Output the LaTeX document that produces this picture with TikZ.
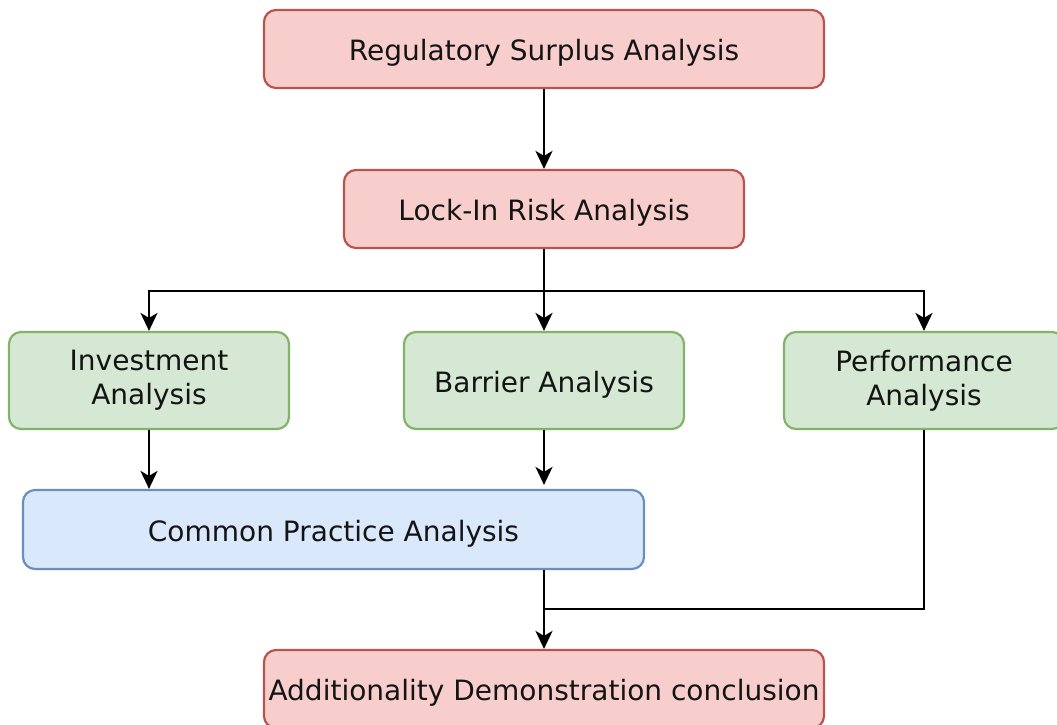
\documentclass[tikz,border=0pt]{standalone}
\usepackage{fontspec}
\setmainfont{DejaVu Sans}
\usetikzlibrary{arrows.meta}
\definecolor{redfill}{HTML}{F8CECC}
\definecolor{redline}{HTML}{B85450}
\definecolor{greenfill}{HTML}{D5E8D4}
\definecolor{greenline}{HTML}{82B366}
\definecolor{bluefill}{HTML}{DAE8FC}
\definecolor{blueline}{HTML}{6C8EBF}
\begin{document}
\begin{tikzpicture}[x=1pt,y=-1pt,
  box/.style={rounded corners=12pt, line width=2.2pt, inner sep=0pt, align=center,
    font=\fontsize{28}{34}\selectfont, text=black!92,
    execute at begin node={\rule{0pt}{29pt}}},
  redbox/.style={box, fill=redfill, draw=redline},
  greenbox/.style={box, fill=greenfill, draw=greenline},
  bluebox/.style={box, fill=bluefill, draw=blueline},
  conn/.style={line width=2.4pt, draw=black},
  arr/.style={conn, -{Stealth[length=18pt,width=17pt,inset=5pt]}}
]
\useasboundingbox (0,0) rectangle (1057,724);
\clip (0,0) rectangle (1057,724);
\node[redbox, minimum width=560pt, minimum height=78pt] (reg) at (544,49) {Regulatory Surplus Analysis};
\node[redbox, minimum width=400pt, minimum height=78pt] (lock) at (544,209) {Lock-In Risk Analysis};
\node[greenbox, minimum width=280pt, minimum height=97pt] (inv) at (149,380.5) {Investment\\Analysis};
\node[greenbox, minimum width=280pt, minimum height=97pt] (bar) at (544,380.5) {Barrier Analysis};
\node[greenbox, minimum width=280pt, minimum height=97pt] (perf) at (924,380.5) {Performance\\Analysis};
\node[bluebox, minimum width=621pt, minimum height=79pt] (cpa) at (333.5,529.5) {Common Practice Analysis};
\node[redbox, minimum width=560pt, minimum height=78pt] (add) at (544,689) {Additionality Demonstration conclusion};

\coordinate (split) at (544,291);
\coordinate (join) at (544,609);

\draw[arr] (reg.south) -- (lock.north);
\draw[conn] (lock.south) -- (split);
\draw[arr] (split) -| (inv.north);
\draw[arr] (split) -- (bar.north);
\draw[arr] (split) -| (perf.north);
\draw[arr] (inv.south) -- (inv.south |- cpa.north);
\draw[arr, shorten >=4pt] (bar.south) -- (bar.south |- cpa.north);
\draw[arr] (cpa.south -| add.north) -- (add.north);
\draw[conn] (perf.south) |- (join);
\end{tikzpicture}
\end{document}
